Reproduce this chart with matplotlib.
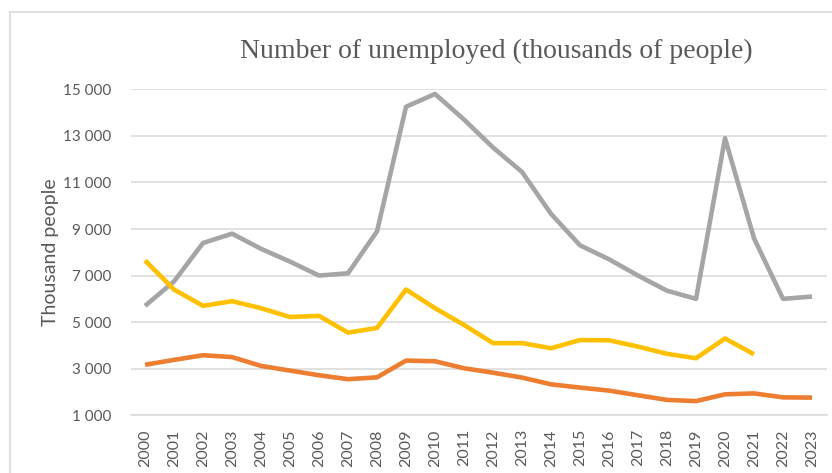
import matplotlib
matplotlib.use("Agg")
import matplotlib.pyplot as plt
import numpy as np
from matplotlib.lines import Line2D
from matplotlib.ticker import FuncFormatter

# Data (thousand people)
years = [str(y) for y in range(2000, 2024)]
gray_values = [5700, 6750, 8400, 8800, 8150, 7600, 7000, 7100, 8900, 14250,
               14800, 13700, 12500, 11450, 9650, 8300, 7700, 7000, 6350, 6000,
               12900, 8600, 6000, 6100]
yellow_values = [7650, 6400, 5700, 5900, 5600, 5220, 5270, 4550, 4750, 6400,
                 5600, 4880, 4100, 4100, 3880, 4230, 4220, 3950, 3640, 3450,
                 4300, 3620, np.nan, np.nan]
orange_values = [3170, 3380, 3580, 3500, 3120, 2920, 2720, 2550, 2630, 3350,
                 3320, 3020, 2830, 2620, 2330, 2190, 2060, 1860, 1660, 1610,
                 1900, 1940, 1770, 1760]
y_ticks = [1000, 3000, 5000, 7000, 9000, 11000, 13000, 15000]

fig = plt.figure(figsize=(8.32, 4.73), dpi=100)
ax = fig.add_axes([0.1569, 0.122, 0.8365, 0.6892])

x = np.arange(len(years))
ax.plot(x, gray_values, color="#A5A5A5", lw=3.3, solid_capstyle="butt", clip_on=False, zorder=3)
ax.plot(x, yellow_values, color="#FFC000", lw=3.3, solid_capstyle="butt", clip_on=False, zorder=3)
ax.plot(x, orange_values, color="#ED7D31", lw=3.3, solid_capstyle="butt", clip_on=False, zorder=3)

ax.set_xlim(-0.5, len(years) - 0.5)
ax.set_ylim(1000, 15000)
ax.set_yticks(y_ticks)
ax.yaxis.set_major_formatter(FuncFormatter(lambda v, p: f"{int(v):,}".replace(",", " ")))
ax.set_xticks(x)
ax.set_xticklabels(years, rotation=90)

ax.grid(axis="y", color="#d9d9d9", lw=1.1)
ax.set_axisbelow(True)
for s in ["top", "right", "left"]:
    ax.spines[s].set_visible(False)
ax.spines["bottom"].set_color("#d9d9d9")
ax.spines["bottom"].set_linewidth(1.1)
ax.tick_params(axis="y", length=0, colors="#595959", labelsize=11, pad=14)
ax.tick_params(axis="x", length=0, colors="#595959", labelsize=11.5, pad=10)
for lab in ax.get_xticklabels() + ax.get_yticklabels():
    lab.set_family("Lato")

ax.set_ylabel("Thousand people", fontsize=14, color="#595959", family="Lato")
ax.yaxis.set_label_coords(-0.1027, 0.5)

fig.text(0.596, 1 - 51 / 473, "Number of unemployed (thousands of people)", ha="center", va="center",
         fontsize=20, color="#595959", family="Liberation Serif")

# chart frame (light border, cut off at right and bottom)
fig.add_artist(Line2D([10 / 832, 10 / 832], [0, 1 - 12 / 473], transform=fig.transFigure,
                      color="#d9d9d9", lw=1.2))
fig.add_artist(Line2D([10 / 832, 1], [1 - 12 / 473, 1 - 12 / 473], transform=fig.transFigure,
                      color="#d9d9d9", lw=1.2))

fig.savefig("out.png", dpi=100)
